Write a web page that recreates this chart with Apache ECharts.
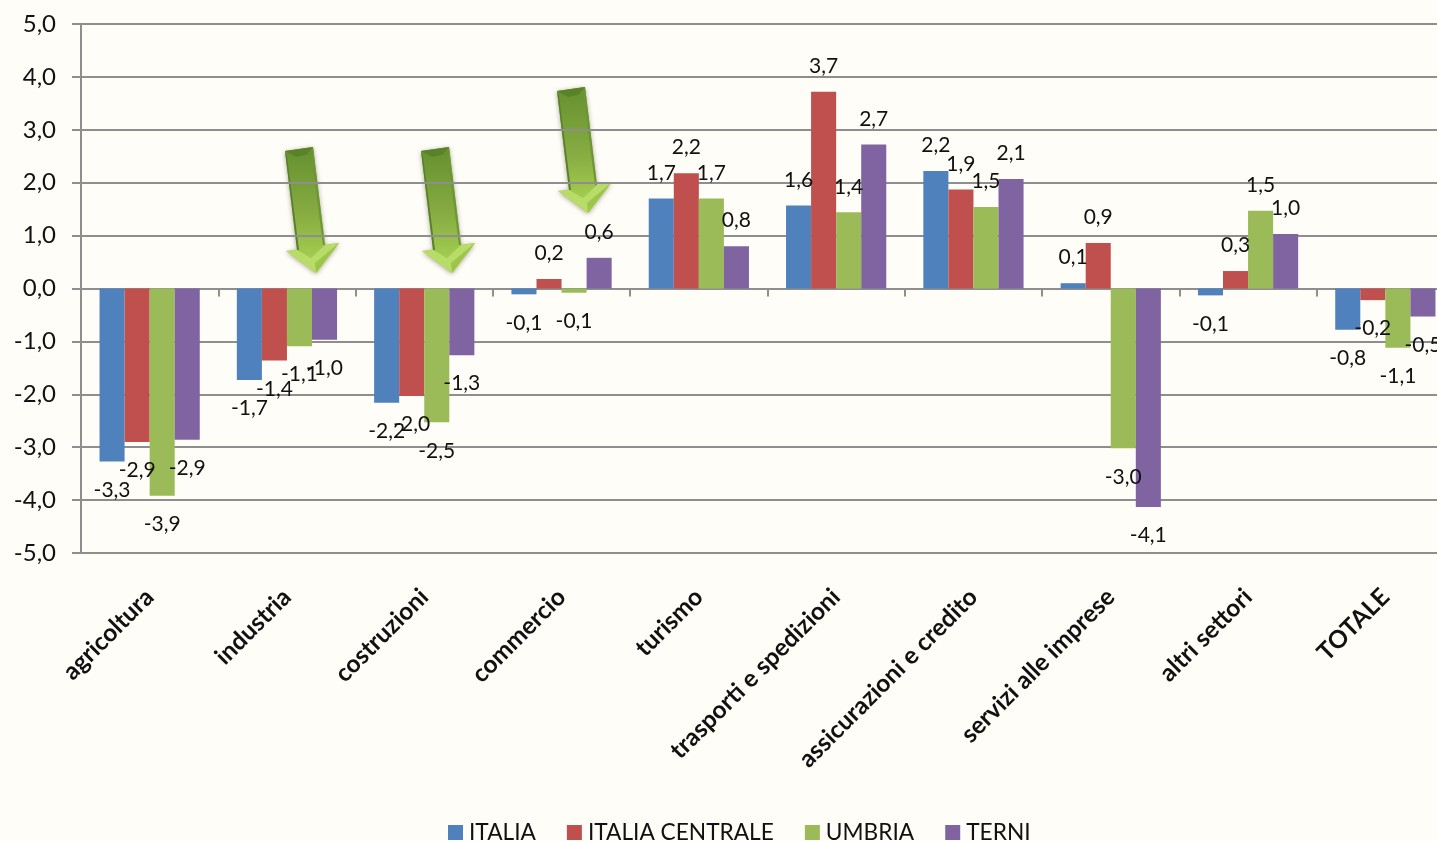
<!DOCTYPE html>
<html>
<head>
<meta charset="utf-8">
<title>Variazioni per settore</title>
<style>
	html,body{margin:0;padding:0;background:#fffdf7;overflow:hidden;}
	#chart{width:1437px;height:841px;}
</style>
<script src="https://cdn.jsdelivr.net/npm/echarts@6/dist/echarts.min.js"></script>
</head>
<body>
<div id="chart"></div>
<script>
var categories = ['agricoltura','industria','costruzioni','commercio','turismo','trasporti e spedizioni','assicurazioni e credito','servizi alle imprese','altri settori','TOTALE'];
var italia = [-3.27,-1.73,-2.16,-0.11,1.70,1.57,2.22,0.10,-0.13,-0.78];
var italiaCentrale = [-2.90,-1.36,-2.03,0.18,2.18,3.72,1.87,0.86,0.33,-0.22];
var umbria = [-3.92,-1.09,-2.53,-0.08,1.70,1.44,1.54,-3.02,1.47,-1.12];
var terni = [-2.86,-0.97,-1.26,0.58,0.80,2.72,2.07,-4.13,1.03,-0.53];
var seriesNames = ['ITALIA','ITALIA CENTRALE','UMBRIA','TERNI'];
var seriesColors = ['#4f81bd','#c0504d','#9bbb59','#8064a2'];

var FONT = 'Lato';
var GRAY = '#8e8e8e';

function comma(v){
	return v.toFixed(1).replace('.',',');
}

function makeSeries(i,values){
	return {
		name : seriesNames[i],
		type : 'bar',
		// le etichette negative stanno un po' piu' lontane dalla barra
		data : values.map(function(v){
			return { value : v, label : { distance : v < 0 ? 18 : 15 } };
		}),
		barGap : 0,
		barCategoryGap : '27%',
		itemStyle : { color : seriesColors[i] },
		label : {
			show : true,
			position : 'outside',
			fontFamily : FONT,
			fontSize : 21,
			color : '#111',
			formatter : function(p){ return comma(p.value); }
		}
	};
}

// frecce verdi sopra il grafico: dx,dy = spostamento dalla prima freccia
function arrow(dx,dy){
	function pts(list){
		return list.map(function(p){ return [p[0]+dx,p[1]+dy]; });
	}
	return {
		type : 'group',
		z : 100,
		children : [
			{
				type : 'polygon',
				shape : { points : pts([[285,151],[313,147],[325,245],[339,243],[316,273],[286,251],[297,250]]) },
				style : {
					fill : new echarts.graphic.LinearGradient(0,0,0,1,[
						{offset:0,color:'#64902f'},
						{offset:0.55,color:'#88ad43'},
						{offset:0.85,color:'#a0ca4e'},
						{offset:1,color:'#a5cf50'}
					]),
					shadowBlur : 5,
					shadowColor : 'rgba(60,60,30,0.45)',
					shadowOffsetY : 1
				}
			},
			{
				type : 'polygon',
				shape : { points : pts([[285,151],[287,156],[299,250],[297,250]]) },
				style : { fill : '#5a7f2b' }
			},
			{
				type : 'polygon',
				shape : { points : pts([[313,147],[311,152],[323,245],[325,245]]) },
				style : { fill : '#6e9634' }
			},
			{
				type : 'polygon',
				shape : { points : pts([[285,151],[313,147],[306,155],[296,157]]) },
				style : { fill : '#5a8329' }
			},
			{
				type : 'polygon',
				shape : { points : pts([[286,251],[297,250],[311,258],[325,245],[339,243],[316,273]]) },
				style : { fill : '#b8dc68' }
			},
			{
				type : 'polygon',
				shape : { points : pts([[339,243],[316,273],[315,263]]) },
				style : { fill : '#9cc64a' }
			}
		]
	};
}

var chart = echarts.init(document.getElementById('chart'),null,{renderer:'canvas'});
chart.setOption({
	animation : false,
	backgroundColor : '#fffdf7',
	textStyle : { fontFamily : FONT },
	grid : { left:81, top:24, width:1373, height:529, containLabel:false, outerBoundsMode:'none' },
	legend : {
		left : 448,
		top : 821,
		padding : 0,
		itemWidth : 15,
		itemHeight : 15,
		itemGap : 31,
		icon : 'rect',
		textStyle : { fontFamily:FONT, fontSize:22.7, color:'#111', padding:[0,0,0,1] },
		data : seriesNames
	},
	xAxis : {
		type : 'category',
		data : categories,
		axisLine : { onZero:true, lineStyle:{color:GRAY,width:2} },
		axisTick : { show:true, length:8, lineStyle:{color:GRAY,width:2} },
		axisLabel : {
			interval : 0,
			rotate : 45,
			margin : 40,
			fontFamily : FONT,
			fontWeight : 'bold',
			fontSize : 24.5,
			color : '#111'
		}
	},
	yAxis : {
		type : 'value',
		min : -5,
		max : 5,
		interval : 1,
		axisLine : { show:true, lineStyle:{color:GRAY,width:2} },
		axisTick : { show:true, length:9, lineStyle:{color:GRAY,width:2} },
		axisLabel : {
			margin : 25,
			fontFamily : FONT,
			fontSize : 24,
			color : '#111',
			formatter : function(v){ return comma(v); }
		},
		splitLine : { show:true, lineStyle:{color:GRAY,width:2} }
	},
	series : [
		makeSeries(0,italia),
		makeSeries(1,italiaCentrale),
		makeSeries(2,umbria),
		makeSeries(3,terni)
	],
	graphic : [arrow(0,0),arrow(136,0),arrow(272,-60)]
});
</script>
</body>
</html>
